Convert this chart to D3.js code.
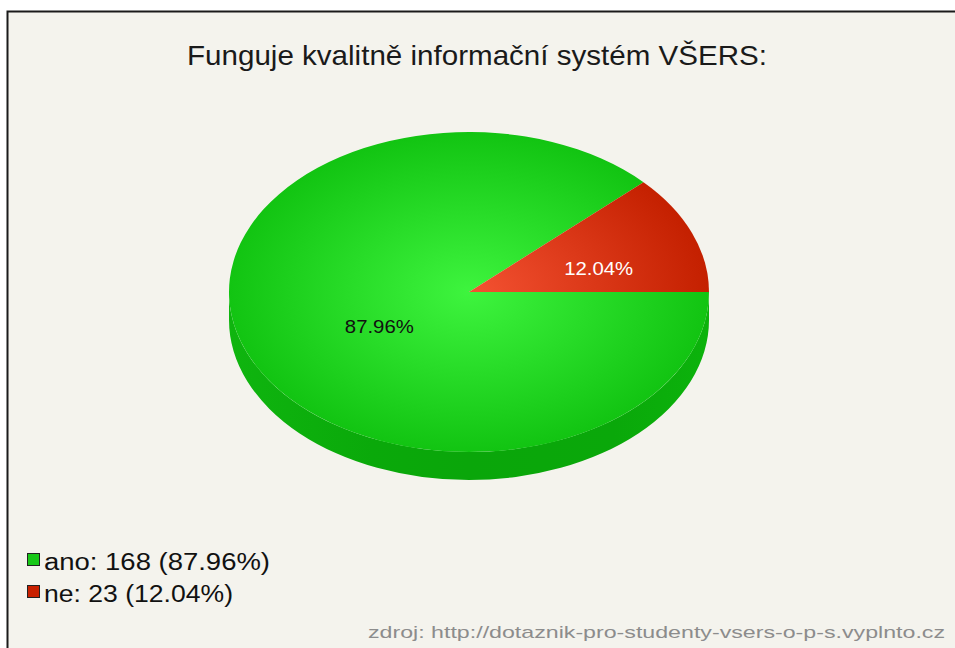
<!DOCTYPE html>
<html><head><meta charset="utf-8">
<script src="https://cdn.jsdelivr.net/npm/d3@7"></script>
<style>html,body{margin:0;padding:0;background:#fff;}svg{display:block;}</style>
</head><body>
<script>
const title = "Funguje kvalitně informační systém VŠERS:";
const categories = ["ano", "ne"];
const values = [168, 23];
const percentLabels = ["87.96%", "12.04%"];
const source = "zdroj: http://dotaznik-pro-studenty-vsers-o-p-s.vyplnto.cz";

(function () {
const W = 955, H = 648;
const font = "'Liberation Sans', Arial, sans-serif";
const topColors = [["#3ef43e", "#12c412"], ["#f45232", "#c42000"]];
const legendColors = ["#18c818", "#c82000"];
const legendWidths = [226, 189];

const svg = d3.select("body").append("svg").attr("width", W).attr("height", H);
const defs = svg.append("defs");

svg.append("rect").attr("x", 7).attr("y", 11).attr("width", W).attr("height", H).attr("fill", "#f4f3ed");
svg.append("path").attr("d", `M7.5,${H} V11.5 H${W}`).attr("fill", "none").attr("stroke", "#1a1a1a").attr("stroke-width", 2);

svg.append("text").attr("x", 477).attr("y", 65).attr("text-anchor", "middle")
  .attr("font-family", font).attr("font-size", 28).attr("fill", "#1a1a1a")
  .attr("textLength", 580).attr("lengthAdjust", "spacingAndGlyphs").text(title);

const cx = 469, cy = 292, rx = 240, ry = 160, depth = 28;
const k = ry / rx;

const pie = d3.pie().sort(null).value(d => d).startAngle(Math.PI / 2).endAngle(Math.PI / 2 + 2 * Math.PI);
const arcs = pie(values);
const arc = d3.arc().innerRadius(0).outerRadius(rx);

topColors.forEach((c, i) => {
  const gr = defs.append("radialGradient").attr("id", "tg" + i).attr("gradientUnits", "userSpaceOnUse")
    .attr("cx", 0).attr("cy", 0).attr("r", rx);
  gr.append("stop").attr("offset", 0).attr("stop-color", c[0]);
  gr.append("stop").attr("offset", 1).attr("stop-color", c[1]);
});
const sg = defs.append("linearGradient").attr("id", "side").attr("gradientUnits", "userSpaceOnUse")
  .attr("x1", -rx).attr("x2", rx).attr("y1", 0).attr("y2", 0);
[[0, "#0fb50f"], [0.3, "#0aa90a"], [0.5, "#0aa60a"], [0.8, "#0aa80a"], [1, "#0cb30c"]].forEach(s =>
  sg.append("stop").attr("offset", s[0]).attr("stop-color", s[1]));

const g = svg.append("g").attr("transform", `translate(${cx},${cy})`);
g.append("path")
  .attr("d", `M${rx},0 A${rx},${ry} 0 0 1 ${-rx},0 L${-rx},${depth} A${rx},${ry} 0 0 0 ${rx},${depth} Z`)
  .attr("fill", "url(#side)");

const face = g.append("g").attr("transform", `scale(1,${k})`);
face.selectAll("path.slice").data(arcs).join("path").attr("class", "slice")
  .attr("d", arc).attr("fill", (d, i) => `url(#tg${i})`);

const labelArc = d3.arc().innerRadius(118).outerRadius(118);
g.selectAll("text.lbl").data(arcs).join("text").attr("class", "lbl")
  .attr("x", d => labelArc.centroid(d)[0] + 20)
  .attr("y", d => labelArc.centroid(d)[1] * k + 5)
  .attr("dy", "0.35em").attr("text-anchor", "middle")
  .attr("font-family", font).attr("font-size", 19)
  .attr("fill", (d, i) => i === 0 ? "#111" : "#fff")
  .attr("textLength", 69).attr("lengthAdjust", "spacingAndGlyphs")
  .text((d, i) => percentLabels[i]);

const leg = svg.append("g");
categories.forEach((c, i) => {
  const y0 = 553 + i * 32;
  leg.append("rect").attr("x", 27.5).attr("y", y0 + 0.5).attr("width", 12).attr("height", 12)
    .attr("fill", legendColors[i]).attr("stroke", "#222").attr("stroke-width", 1);
  leg.append("text").attr("x", 44).attr("y", y0 + 17).attr("font-family", font).attr("font-size", 23)
    .attr("fill", "#111").attr("textLength", legendWidths[i]).attr("lengthAdjust", "spacingAndGlyphs")
    .text(`${c}: ${values[i]} (${percentLabels[i]})`);
});

svg.append("text").attr("x", 945).attr("y", 638).attr("text-anchor", "end")
  .attr("font-family", font).attr("font-size", 17).attr("fill", "#8c8c8c")
  .attr("textLength", 577).attr("lengthAdjust", "spacingAndGlyphs").text(source);
})();
</script>
</body></html>
